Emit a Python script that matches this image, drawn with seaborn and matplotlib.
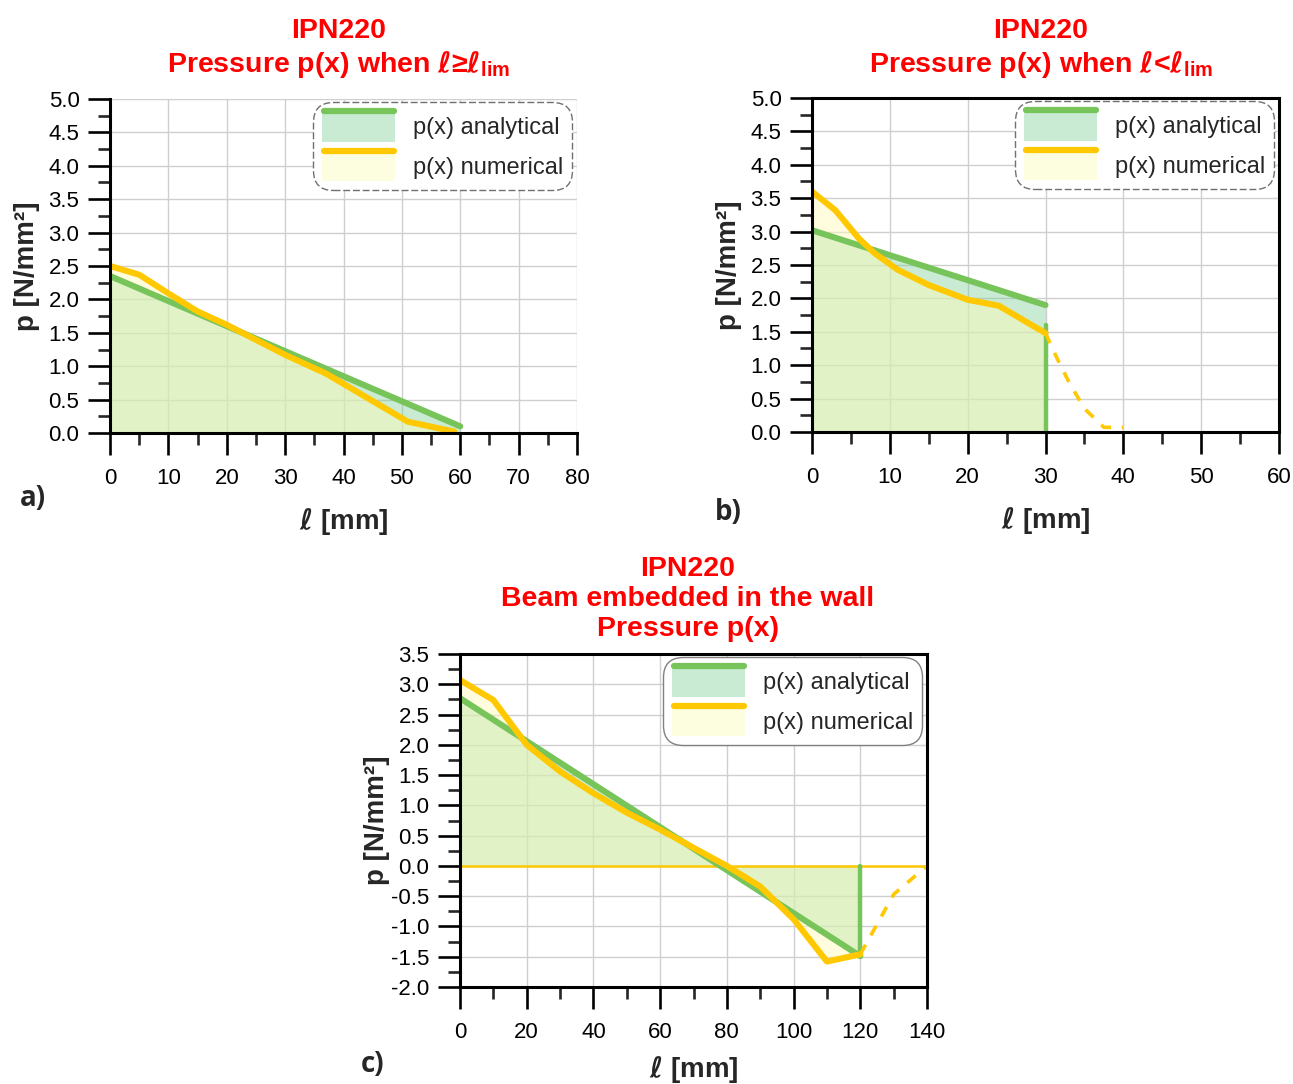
import numpy as np
import pandas as pd
import seaborn as sns
import matplotlib.pyplot as plt
from matplotlib.ticker import MultipleLocator, FormatStrFormatter
from matplotlib.patches import Patch, Rectangle
from matplotlib.lines import Line2D
from matplotlib.legend_handler import HandlerBase

# ---- data ----
# a) l >= l_lim
a_x_ana = [0, 60]
a_y_ana = [2.35, 0.10]
a_x_num = [0, 5, 10, 15, 20, 30, 37, 51, 59]
a_y_num = [2.50, 2.37, 2.09, 1.82, 1.62, 1.17, 0.89, 0.17, 0.02]

# b) l < l_lim
b_x_ana = [0, 30]
b_y_ana = [3.02, 1.90]
b_x_drop = [30, 30]
b_y_drop = [1.60, 0.0]
b_x_num = [0, 3, 6, 8, 11, 15, 20, 24, 30]
b_y_num = [3.60, 3.32, 2.90, 2.68, 2.43, 2.20, 1.98, 1.89, 1.48]
b_x_dash = [30, 31.5, 33, 35, 37.5, 40]
b_y_dash = [1.48, 1.10, 0.75, 0.35, 0.07, 0.07]

# c) beam embedded in the wall
c_x_ana = [0, 120]
c_y_ana = [2.77, -1.49]
c_x_drop = [120, 120]
c_y_drop = [-1.49, 0.0]
c_x_num = [0, 10, 20, 30, 40, 50, 60, 70, 80, 90, 100, 110, 120]
c_y_num = [3.07, 2.74, 2.00, 1.56, 1.20, 0.88, 0.60, 0.30, 0.0, -0.34, -0.88, -1.58, -1.46]
c_x_dash = [120, 130, 140]
c_y_dash = [-1.46, -0.47, 0.0]

labels = ['p(x) analytical', 'p(x) numerical']

GREEN = '#76c45a'
YELLOW = '#ffc800'
TEAL_FILL = '#7fd09a'
YEL_FILL = '#fffbba'
RED = '#ff0000'
ELL = r'$\mathsf{\ell}$'

sns.set_style('white')
plt.rcParams['font.family'] = ['Liberation Sans', 'DejaVu Sans']
plt.rcParams['mathtext.fontset'] = 'custom'
plt.rcParams['mathtext.rm'] = 'Liberation Sans'
plt.rcParams['mathtext.bf'] = 'Liberation Sans:bold'
plt.rcParams['mathtext.sf'] = 'DejaVu Sans:style=oblique:weight=bold'
plt.rcParams['axes.unicode_minus'] = False


class LineOnBox(HandlerBase):
    # legend key: filled box with a thick line on its top edge
    def create_artists(self, legend, orig_handle, xdescent, ydescent,
                       width, height, fontsize, trans):
        x0, y0 = -xdescent, -ydescent
        box = Rectangle((x0, y0), width, height, facecolor=orig_handle.get_facecolor(),
                        edgecolor='none', transform=trans)
        ln = Line2D([x0 + 1, x0 + width - 1], [y0 + height, y0 + height],
                    color=orig_handle.get_edgecolor(), lw=4.5,
                    solid_capstyle='round', transform=trans)
        return [box, ln]


def panel(ax, xa, ya, xn, yn, xmax, xmaj, ylo, yhi, drop=None, dash=None,
          zero_line=False, frame=True, leg_ls='-', leg_ec='#808080', xlab_y=-0.22):
    ax.fill_between(xa, ya, 0, color=TEAL_FILL, alpha=0.42, lw=0)
    sns.lineplot(x=xa, y=ya, ax=ax, color=GREEN, lw=4.4, sort=False,
                 solid_capstyle='round')
    if drop is not None:
        sns.lineplot(x=drop[0], y=drop[1], ax=ax, color=GREEN, lw=3.2,
                     sort=False, estimator=None)
    ax.fill_between(xn, yn, 0, color=YEL_FILL, alpha=0.48, lw=0)
    if zero_line:
        ax.axhline(0, color=YELLOW, lw=1.8, zorder=1.5)
    sns.lineplot(x=xn, y=yn, ax=ax, color=YELLOW, lw=4.4, sort=False,
                 solid_capstyle='round')
    if dash is not None:
        sns.lineplot(x=dash[0], y=dash[1], ax=ax, color=YELLOW, lw=2.6,
                     sort=False, linestyle=(0, (3, 3)), clip_on=False)

    ax.set_xlim(0, xmax)
    ax.set_ylim(ylo, yhi)
    ax.xaxis.set_major_locator(MultipleLocator(xmaj))
    ax.xaxis.set_minor_locator(MultipleLocator(xmaj / 2))
    ax.yaxis.set_major_locator(MultipleLocator(0.5))
    ax.yaxis.set_minor_locator(MultipleLocator(0.25))
    ax.yaxis.set_major_formatter(FormatStrFormatter('%.1f'))
    ax.grid(True, which='major', color='#cfcfcf', lw=1)
    ax.tick_params(which='major', direction='out', length=16, width=1.9,
                   labelsize=16, left=True, bottom=True, pad=6, colors='black')
    ax.tick_params(which='minor', direction='out', length=8.5, width=1.9,
                   left=True, bottom=True)
    ax.tick_params(axis='x', which='major', pad=9)
    for s in ax.spines.values():
        s.set_linewidth(2.2)
        s.set_color('black')
    if not frame:
        ax.spines['top'].set_visible(False)
        ax.spines['right'].set_visible(False)

    ax.set_xlabel(ELL + ' [mm]', fontsize=20, fontweight='bold')
    ax.set_ylabel('p [N/mm²]', fontsize=20, fontweight='bold')
    ax.xaxis.set_label_coords(0.5, xlab_y)
    ax.yaxis.set_label_coords(-0.15, 0.5)

    handles = [Patch(facecolor='#c9ead3', edgecolor=GREEN),
               Patch(facecolor='#fdfde0', edgecolor=YELLOW)]
    leg = ax.legend(handles, labels, handler_map={Patch: LineOnBox()},
                    loc='upper right', bbox_to_anchor=(0.99, 0.99),
                    borderaxespad=0, fontsize=17, handlelength=3.1,
                    handleheight=1.6, labelspacing=0.4, handletextpad=0.75,
                    frameon=True, fancybox=True, framealpha=1, borderpad=0.38)
    fr = leg.get_frame()
    fr.set_boxstyle('round,pad=0,rounding_size=0.85')
    fr.set_edgecolor(leg_ec)
    fr.set_linewidth(1.0)
    fr.set_linestyle(leg_ls)


fig = plt.figure(figsize=(12.93, 10.84), dpi=100)
W, H = 1293, 1084


def axes_px(left, top, right, bottom):
    return fig.add_axes([left / W, 1 - bottom / H, (right - left) / W, (bottom - top) / H])


ax_a = axes_px(110, 99, 577, 433)
ax_b = axes_px(812, 98, 1279, 432)
ax_c = axes_px(460, 654, 927, 987)

panel(ax_a, a_x_ana, a_y_ana, a_x_num, a_y_num, 80, 10, 0, 5, frame=False,
      leg_ls=(0, (5, 2)), leg_ec='#707070')
panel(ax_b, b_x_ana, b_y_ana, b_x_num, b_y_num, 60, 10, 0, 5,
      drop=(b_x_drop, b_y_drop), dash=(b_x_dash, b_y_dash),
      leg_ls=(0, (5, 2)), leg_ec='#707070')
panel(ax_c, c_x_ana, c_y_ana, c_x_num, c_y_num, 140, 20, -2, 3.5,
      drop=(c_x_drop, c_y_drop), dash=(c_x_dash, c_y_dash), zero_line=True,
      xlab_y=-0.2)

title_kw = dict(ha='center', va='baseline', color=RED, fontsize=20.5,
                fontweight='bold', linespacing=1.2)
fig.text(339 / W, 1 - 72 / H,
         'IPN220\nPressure p(x) when ' + ELL + '≥' + ELL + '$_{\\mathbf{lim}}$', **title_kw)
fig.text(1041 / W, 1 - 72 / H,
         'IPN220\nPressure p(x) when ' + ELL + '<' + ELL + '$_{\\mathbf{lim}}$', **title_kw)
fig.text(688 / W, 1 - 636 / H, 'IPN220\nBeam embedded in the wall\nPressure p(x)',
         **title_kw)

lab_kw = dict(fontsize=20, fontweight='bold', ha='center', va='center',
              family=['Open Sans', 'DejaVu Sans'])
fig.text(33 / W, 1 - 498 / H, 'a)', **lab_kw)
fig.text(728 / W, 1 - 512 / H, 'b)', **lab_kw)
fig.text(373 / W, 1 - 1064 / H, 'c)', **lab_kw)

fig.savefig('out.png', dpi=100)
